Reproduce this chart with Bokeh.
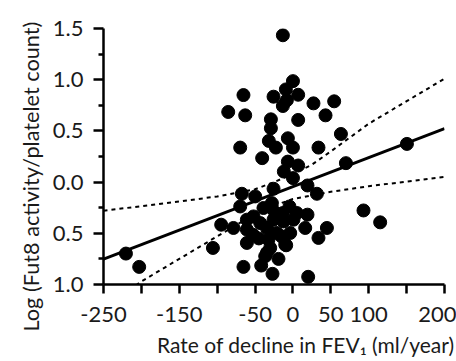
from bokeh.plotting import figure
from bokeh.models import FixedTicker, Range1d, Title
from bokeh.embed import file_html
from bokeh.resources import INLINE

# Scatter data (rate of decline in FEV1 vs log Fut8 activity/platelet count)
x_vals = [-13.3, 0, -9.3, -25.6, 6.9, -65.3, -13.3, -8, 27.1, 54.4,
          -85.4, -63, -29.1, 43, 6.9, -29.1, 63.3, -31.8, -6.7, -69.6,
          -22.5, 0, 33.7, -40.6, -6.7, 6.9, 69.9, 150.4, -12, 0,
          19.2, 31.6, -25.6, -67.4, -49.8, -69.6, -38.9, -27.8, -4.6, 19.2,
          93.1, 115.1, -94.7, -78.5, -60.8, -52.9, -60.8, -34.4, -25.6, -12.5,
          0.7, 16.2, 44.8, 33.7, -8.9, -32.3, -30, -36.6, -19.1, -41.9,
          -65.3, -27, 20.1, -105.6, -220.4, -202.9, -21.2, -3.6, 5.2, -13.3,
          -52, -60.8, -27.8, -23.4, -43.2, -10.2, -34.4, -45, -15]
y_vals = [1.434, 0.986, 0.905, 0.834, 0.853, 0.85, 0.743, 0.80, 0.769, 0.789,
          0.685, 0.652, 0.613, 0.652, 0.607, 0.526, 0.47, 0.402, 0.428, 0.337,
          0.337, 0.337, 0.337, 0.234, 0.2, 0.162, 0.185, 0.373, 0.103, 0.039,
          -0.033, -0.114, -0.065, -0.114, -0.14, -0.238, -0.253, -0.253, -0.238, -0.318,
          -0.277, -0.393, -0.416, -0.448, -0.464, -0.513, -0.594, -0.448, -0.367, -0.384,
          -0.367, -0.448, -0.448, -0.545, -0.617, -0.562, -0.643, -0.724, -0.75, -0.815,
          -0.828, -0.896, -0.925, -0.643, -0.698, -0.828, -0.497, -0.497, -0.302, -0.302,
          -0.335, -0.367, -0.205, -0.302, -0.4, -0.61, -0.691, -0.55, -0.53]

# Regression line
fit_x = [-250, 200]
fit_y = [-0.753, 0.523]

# Confidence band
band_x = [-250, -200, -150, -100, -50, -25, 0, 25, 50, 100, 150, 200]
band_upper = [-0.28, -0.235, -0.19, -0.14, -0.07, 0.0, 0.08, 0.17, 0.30, 0.57, 0.79, 1.01]
band_lower = [-1.24, -0.97, -0.75, -0.53, -0.31, -0.23, -0.165, -0.13, -0.095, -0.04, 0.005, 0.05]

x_ticks = [-250, -200, -150, -100, -50, 0, 50, 100, 150, 200]
x_tick_labels = {-250: "-250", -200: "", -150: "-150", -100: "", -50: "-50",
                 0: "0", 50: "50", 100: "100", 150: "", 200: "200"}
y_ticks = [-1.0, -0.5, 0.0, 0.5, 1.0, 1.5]
y_tick_labels = {-1.0: "1.0", -0.5: "0.5", 0.0: "0.0", 0.5: "0.5", 1.0: "1.0", 1.5: "1.5"}
y_minor = [-0.75, -0.25, 0.25, 0.75, 1.25]

x_title = "Rate of decline in FEV\u2081 (ml/year)"
y_title = "Log (Fut8 activity/platelet count)"

FONT = "Lato"
INK = "#1a1a1a"

p = figure(width=456, height=361, output_backend="svg", toolbar_location=None,
           x_range=Range1d(-250, 200), y_range=Range1d(-1.0, 1.5),
           min_border_left=103, min_border_right=12, min_border_top=28, min_border_bottom=76)
p.grid.visible = False
p.outline_line_color = None
p.background_fill_color = "white"
p.border_fill_color = "white"

p.line(band_x, band_upper, line_color="black", line_width=2, line_dash="4 4")
p.line(band_x, band_lower, line_color="black", line_width=2, line_dash="4 4")
p.line(fit_x, fit_y, line_color="black", line_width=3)
p.scatter(x_vals, y_vals, size=13, fill_color="black", line_color="black")

xa = p.xaxis[0]
xa.ticker = FixedTicker(ticks=x_ticks)
xa.major_label_overrides = x_tick_labels
xa.axis_line_width = 2.5
xa.major_tick_line_width = 2.5
xa.major_tick_out = 9
xa.major_tick_in = 0
xa.minor_tick_line_color = None
xa.major_label_standoff = 13
xa.major_label_text_font = FONT
xa.major_label_text_font_size = "22px"
xa.major_label_text_color = INK
xa.axis_line_color = "black"

ya = p.yaxis[0]
ya.ticker = FixedTicker(ticks=y_ticks, minor_ticks=y_minor)
ya.major_label_overrides = y_tick_labels
ya.axis_line_width = 2.5
ya.major_tick_line_width = 2.5
ya.minor_tick_line_width = 2.5
ya.major_tick_out = 10
ya.major_tick_in = 0
ya.minor_tick_out = 5
ya.minor_tick_in = 0
ya.major_label_standoff = 10
ya.major_label_text_font = FONT
ya.major_label_text_font_size = "22px"
ya.major_label_text_color = INK
ya.axis_line_color = "black"

tx = Title(text=x_title, align="right", offset=-10, text_font=FONT,
           text_font_size="21px", text_font_style="normal", text_color=INK, standoff=10)
p.add_layout(tx, "below")
ty = Title(text=y_title, align="left", offset=-47, text_font=FONT,
           text_font_size="21.7px", text_font_style="normal", text_color=INK, standoff=11)
p.add_layout(ty, "left")

open("out.html", "w").write(file_html(p, INLINE))
